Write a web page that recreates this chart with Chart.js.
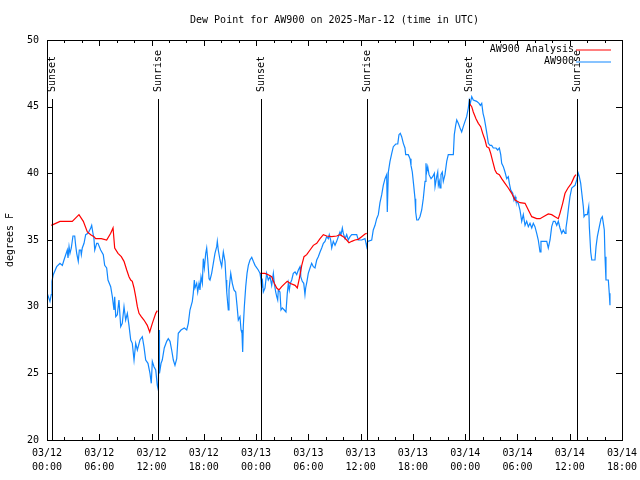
<!DOCTYPE html>
<html lang="en">
<head>
    <meta charset="utf-8">
    <script src="https://cdn.jsdelivr.net/npm/chart.js@4.4.1/dist/chart.umd.min.js"></script>
    <title>Dew Point for AW900</title>
    <style>
        html, body { margin: 0; padding: 0; background: #fff; }
        #wrap { width: 640px; height: 480px; }
    </style>
</head>
<body>
<div id="wrap"><canvas id="chart" width="640" height="480"></canvas></div>
<script>
// hours since 2025-03-12 00:00 UTC
const titleText = 'Dew Point for AW900 on 2025-Mar-12 (time in UTC)';
const yLabel = 'degrees F';
const startDay = 12;

// AW900 observed dew point
const obsHours = [0, 0.34, 0.49, 0.57, 0.72, 1.11, 1.49, 1.76, 1.95, 2.33, 2.41, 2.53, 2.64, 2.79, 2.98, 3.18, 3.29, 3.41, 3.59, 3.71, 3.87, 3.94, 4.05, 4.25, 4.44, 4.71, 5.02, 5.13, 5.25, 5.39, 5.48, 5.70, 5.85, 6.16, 6.46, 6.62, 6.85, 7.00, 7.31, 7.50, 7.69, 7.77, 7.89, 8.07, 8.26, 8.46, 8.64, 8.84, 9.03, 9.22, 9.41, 9.61, 9.79, 9.99, 10.18, 10.37, 10.67, 10.94, 11.13, 11.33, 11.59, 11.82, 11.97, 12.09, 12.28, 12.48, 12.66, 12.78, 12.86, 12.91, 13.09, 13.23, 13.46, 13.74, 13.92, 14.12, 14.31, 14.50, 14.69, 14.89, 15.07, 15.38, 15.76, 16.04, 16.22, 16.41, 16.68, 16.79, 16.91, 16.99, 17.18, 17.30, 17.45, 17.56, 17.68, 17.83, 17.94, 18.06, 18.22, 18.33, 18.45, 18.60, 18.71, 18.90, 19.09, 19.28, 19.48, 19.55, 19.66, 19.86, 20.05, 20.24, 20.43, 20.55, 20.63, 20.81, 20.89, 21.09, 21.27, 21.46, 21.66, 21.81, 21.96, 22.15, 22.27, 22.38, 22.46, 22.53, 22.65, 22.81, 22.96, 23.11, 23.30, 23.50, 23.68, 23.88, 24.25, 24.45, 24.56, 24.64, 24.71, 24.83, 25.02, 25.21, 25.40, 25.60, 25.79, 25.98, 26.09, 26.25, 26.37, 26.48, 26.55, 26.74, 26.86, 27.01, 27.24, 27.43, 27.58, 27.70, 27.81, 27.93, 28.09, 28.27, 28.47, 28.66, 28.85, 29.04, 29.12, 29.30, 29.47, 29.61, 29.69, 29.84, 29.99, 30.19, 30.38, 30.57, 30.76, 30.96, 31.14, 31.34, 31.53, 31.72, 31.91, 32.10, 32.29, 32.40, 32.56, 32.68, 32.86, 33.06, 33.25, 33.44, 33.63, 33.75, 33.90, 34.01, 34.21, 34.40, 34.58, 34.78, 34.98, 35.55, 35.73, 36.12, 36.50, 36.70, 36.81, 37.27, 37.45, 37.65, 37.84, 38.03, 38.22, 38.42, 38.60, 38.80, 38.99, 39.06, 39.18, 39.37, 39.57, 39.75, 40.03, 40.26, 40.40, 40.55, 40.71, 40.90, 41.09, 41.17, 41.47, 41.67, 41.78, 41.93, 42.09, 42.24, 42.32, 42.44, 42.62, 42.81, 43.01, 43.19, 43.39, 43.50, 43.58, 43.70, 43.85, 44.08, 44.27, 44.46, 44.54, 44.73, 44.85, 44.92, 45.03, 45.11, 45.22, 45.37, 45.49, 45.68, 45.88, 46.06, 46.37, 46.64, 46.75, 46.91, 47.03, 47.21, 47.41, 47.60, 47.78, 47.98, 48.17, 48.36, 48.47, 48.59, 48.75, 48.93, 49.32, 49.59, 49.74, 49.90, 50.05, 50.20, 50.36, 50.51, 50.66, 50.85, 51.04, 51.23, 51.54, 51.73, 51.92, 52.08, 52.19, 52.38, 52.57, 52.77, 52.95, 53.07, 53.23, 53.46, 53.60, 53.72, 53.83, 54.10, 54.29, 54.49, 54.67, 54.87, 55.06, 55.25, 55.44, 55.64, 55.82, 56.01, 56.21, 56.39, 56.59, 56.70, 57.36, 57.54, 57.74, 57.93, 58.12, 58.31, 58.51, 58.69, 58.88, 59.08, 59.26, 59.46, 59.57, 59.72, 59.88, 60.03, 60.23, 60.41, 60.61, 60.80, 60.98, 61.10, 61.26, 61.37, 61.56, 61.64, 61.79, 62.02, 62.18, 62.25, 62.41, 62.53, 62.90, 63.02, 63.17, 63.40, 63.59, 63.74, 63.86, 63.97, 64.05, 64.16, 64.43, 64.54, 64.62];
const obsValues = [31.05, 30.4, 30.9, 31.9, 32.4, 33.0, 33.25, 33.1, 33.5, 34.25, 33.65, 34.5, 34.0, 34.4, 35.3, 35.3, 34.6, 34.0, 33.4, 34.25, 34.25, 33.9, 34.4, 34.75, 35.4, 35.5, 35.9, 36.1, 35.6, 35.1, 34.25, 34.75, 34.75, 34.25, 33.9, 33.1, 32.9, 32.0, 31.5, 30.75, 29.75, 30.75, 29.25, 29.4, 30.5, 28.5, 28.75, 30.0, 29.0, 29.5, 28.6, 27.5, 27.25, 26.0, 27.25, 26.75, 27.5, 27.75, 27.0, 26.0, 25.75, 25.0, 24.25, 25.9, 25.5, 25.25, 24.1, 23.75, 28.25, 25.0, 25.75, 26.0, 26.9, 27.4, 27.6, 27.4, 26.75, 26.0, 25.6, 26.1, 28.0, 28.25, 28.4, 28.25, 28.75, 29.75, 30.4, 31.0, 32.0, 31.4, 31.75, 31.1, 31.75, 31.25, 32.25, 31.75, 33.6, 32.9, 34.0, 34.4, 33.5, 32.1, 32.0, 32.5, 33.25, 34.0, 34.5, 34.9, 34.25, 33.5, 33.0, 34.1, 33.4, 32.0, 31.1, 29.75, 31.25, 32.5, 31.75, 31.25, 31.1, 30.1, 29.0, 29.25, 28.25, 28.0, 26.6, 28.5, 30.0, 31.5, 32.5, 33.1, 33.5, 33.7, 33.4, 33.1, 32.75, 32.5, 32.0, 31.4, 32.1, 31.1, 31.4, 32.5, 32.0, 32.25, 31.6, 32.5, 31.75, 31.1, 30.75, 30.5, 31.25, 31.1, 29.75, 29.9, 29.75, 29.6, 31.0, 31.75, 31.25, 31.75, 32.0, 32.5, 32.6, 32.4, 32.75, 33.0, 32.25, 31.9, 31.75, 30.9, 31.4, 31.9, 32.5, 32.9, 33.25, 33.0, 32.9, 33.5, 33.75, 34.1, 34.4, 34.75, 34.9, 35.25, 35.1, 35.4, 35.0, 34.4, 34.9, 34.6, 34.9, 35.25, 35.6, 35.4, 35.9, 35.5, 35.1, 35.4, 35.0, 35.25, 35.4, 35.4, 35.0, 35.0, 35.1, 34.5, 34.9, 35.0, 35.75, 36.1, 36.6, 36.9, 37.8, 38.4, 39.1, 39.6, 39.9, 37.1, 40.1, 40.9, 41.5, 42.0, 42.2, 42.2, 42.9, 43.0, 42.75, 42.25, 41.9, 41.4, 41.4, 41.1, 40.6, 40.1, 39.1, 38.1, 37.1, 36.5, 36.5, 36.75, 37.25, 38.1, 39.4, 40.75, 40.1, 40.5, 39.9, 39.6, 39.75, 40.0, 39.0, 39.75, 40.1, 39.1, 39.4, 38.9, 39.9, 40.1, 39.4, 39.9, 40.9, 41.4, 41.4, 41.4, 42.9, 43.6, 44.0, 43.75, 43.4, 43.1, 43.5, 43.9, 44.25, 44.9, 45.5, 45.25, 45.75, 45.5, 45.4, 45.25, 45.1, 45.25, 44.5, 44.1, 43.5, 42.9, 42.25, 42.1, 42.1, 41.9, 41.9, 41.75, 41.9, 41.4, 40.75, 40.5, 40.1, 39.6, 39.75, 39.25, 38.75, 38.5, 38.0, 38.25, 37.9, 37.75, 37.25, 36.4, 36.9, 36.1, 36.4, 36.0, 36.25, 35.9, 36.25, 36.0, 35.5, 35.0, 34.1, 34.9, 34.9, 34.4, 35.0, 36.0, 36.4, 36.4, 36.1, 36.4, 35.9, 35.5, 35.75, 35.5, 35.9, 36.6, 37.5, 38.25, 38.9, 39.0, 39.1, 39.5, 40.0, 39.75, 39.25, 38.6, 37.5, 36.75, 36.9, 36.9, 37.5, 36.0, 34.1, 33.5, 33.5, 34.5, 35.25, 36.0, 36.6, 36.75, 36.25, 35.75, 33.75, 32.0, 32.0, 31.0, 30.1];

// AW900 analysis (night-time only, null = break)
const anaHours = [0.49, 1.00, 1.49, 2.15, 2.90, 3.67, 4.17, 4.63, 5.02, 5.39, 5.59, 6.23, 6.85, 7.31, 7.58, 7.77, 8.15, 8.53, 8.84, 9.15, 9.41, 9.61, 9.79, 9.99, 10.18, 10.37, 10.56, 10.82, 11.13, 11.51, 11.79, 12.09, 12.48, 12.66, 18.0, 24.48, 25.02, 25.40, 25.79, 26.09, 26.37, 26.63, 26.94, 27.32, 27.58, 27.89, 28.47, 28.73, 28.96, 29.24, 29.50, 29.81, 30.19, 30.57, 30.96, 31.34, 31.72, 32.10, 32.68, 33.25, 33.63, 34.01, 34.40, 34.66, 34.98, 35.35, 35.73, 36.12, 36.50, 36.70, 42.0, 48.47, 48.75, 48.93, 49.24, 49.51, 49.78, 50.01, 50.28, 50.47, 50.73, 50.93, 51.16, 51.42, 51.62, 51.92, 52.19, 52.57, 52.95, 53.34, 53.72, 54.29, 54.87, 55.25, 55.64, 56.21, 56.59, 56.97, 57.54, 57.93, 58.31, 58.69, 58.88, 59.19, 59.46, 59.80, 60.19, 60.53, 60.72];
const anaValues = [36.1, 36.25, 36.4, 36.4, 36.4, 36.9, 36.4, 35.6, 35.4, 35.25, 35.1, 35.1, 35.0, 35.5, 35.9, 34.4, 34.0, 33.75, 33.4, 32.75, 32.25, 32.0, 31.9, 31.4, 30.75, 30.0, 29.5, 29.25, 29.0, 28.6, 28.1, 28.75, 29.5, 29.7, null, 32.5, 32.5, 32.4, 32.25, 31.75, 31.4, 31.25, 31.5, 31.75, 31.9, 31.75, 31.6, 31.4, 32.1, 33.1, 33.75, 33.9, 34.25, 34.6, 34.75, 35.1, 35.4, 35.3, 35.25, 35.3, 35.4, 35.25, 35.0, 34.8, 34.9, 35.0, 35.05, 35.25, 35.45, 35.5, null, 45.25, 45.0, 44.6, 44.1, 43.75, 43.5, 43.0, 42.5, 42.0, 41.9, 41.5, 40.9, 40.25, 40.0, 39.9, 39.6, 39.25, 38.9, 38.5, 38.0, 37.8, 37.75, 37.25, 36.75, 36.6, 36.6, 36.75, 36.95, 36.9, 36.75, 36.6, 37.0, 37.75, 38.5, 38.9, 39.25, 39.75, 39.9];

// sunrise / sunset markers
const eventHours = [0.54, 12.78, 24.51, 36.77, 48.47, 60.78];
const eventNames = ['Sunset', 'Sunrise', 'Sunset', 'Sunrise', 'Sunset', 'Sunrise'];

const RED = '#ff0000';
const BLUE = '#1188ff';
const FONT = '10px "DejaVu Sans Mono", "Liberation Mono", monospace';

function hourLabel(h) {
    const day = startDay + Math.floor(h / 24);
    const hh = h % 24;
    return ['03/' + day, String(hh).padStart(2, '0') + ':00'];
}

// frame, inward ticks, sunrise/sunset lines, title and legend like gnuplot
const gnuplotBits = {
    id: 'gnuplotBits',
    afterDraw(chart) {
        const ctx = chart.ctx;
        const a = chart.chartArea;
        const xs = chart.scales.x;
        const ys = chart.scales.y;
        ctx.save();
        ctx.strokeStyle = '#000';
        ctx.lineWidth = 1;

        // frame
        ctx.strokeRect(Math.round(a.left) + 0.5, Math.round(a.top) + 0.5,
            Math.round(a.right - a.left), Math.round(a.bottom - a.top));

        ctx.beginPath();
        // x ticks every 2 h, longer every 6 h
        for (let h = 0; h <= 66; h += 2) {
            const px = Math.round(xs.getPixelForValue(h)) + 0.5;
            const len = (h % 6 === 0) ? 6 : 3;
            ctx.moveTo(px, a.bottom); ctx.lineTo(px, a.bottom - len);
            ctx.moveTo(px, a.top); ctx.lineTo(px, a.top + len);
        }
        // y ticks
        for (let v = 20; v <= 50; v += 5) {
            const py = Math.round(ys.getPixelForValue(v)) + 0.5;
            ctx.moveTo(a.left, py); ctx.lineTo(a.left + 6, py);
            ctx.moveTo(a.right, py); ctx.lineTo(a.right - 6, py);
        }
        ctx.stroke();

        // sunrise / sunset lines with labels
        ctx.font = FONT;
        ctx.fillStyle = '#000';
        eventHours.forEach((h, i) => {
            const px = Math.round(xs.getPixelForValue(h)) + 0.5;
            ctx.beginPath();
            ctx.moveTo(px, 99);
            ctx.lineTo(px, a.bottom);
            ctx.stroke();
            ctx.save();
            ctx.translate(px, 92);
            ctx.rotate(-Math.PI / 2);
            ctx.textAlign = 'left';
            ctx.textBaseline = 'middle';
            ctx.fillText(eventNames[i], 0, 0);
            ctx.restore();
        });

        // title
        ctx.textAlign = 'center';
        ctx.textBaseline = 'middle';
        ctx.fillText(titleText, (a.left + a.right) / 2, 20);

        // y axis label
        ctx.save();
        ctx.translate(10, (a.top + a.bottom) / 2);
        ctx.rotate(-Math.PI / 2);
        ctx.fillText(yLabel, 0, 0);
        ctx.restore();

        // legend: text then line sample
        const legendColors = [RED, BLUE];
        chart.data.datasets.forEach((ds, i) => {
            const y = 49 + i * 12;
            ctx.textAlign = 'right';
            ctx.fillStyle = '#000';
            ctx.fillText(ds.label, 574, y);
            ctx.strokeStyle = legendColors[i];
            ctx.lineWidth = 1.2;
            ctx.beginPath();
            ctx.moveTo(576, y + 1);
            ctx.lineTo(611, y + 1);
            ctx.stroke();
        });
        ctx.restore();
    }
};

new Chart(document.getElementById('chart'), {
    type: 'line',
    data: {
        datasets: [{
            label: 'AW900 Analysis',
            data: anaHours.map((h, i) => ({x: h, y: anaValues[i]})),
            borderColor: RED,
            borderWidth: 1.2,
            pointRadius: 0,
            spanGaps: false,
            tension: 0,
        }, {
            label: 'AW900',
            data: obsHours.map((h, i) => ({x: h, y: obsValues[i]})),
            borderColor: BLUE,
            borderWidth: 1.2,
            pointRadius: 0,
            tension: 0,
        }],
    },
    options: {
        responsive: false,
        animation: false,
        events: [],
        layout: { padding: { top: 40, right: 18, left: 0, bottom: 0 } },
        plugins: { legend: { display: false }, title: { display: false }, tooltip: { enabled: false } },
        scales: {
            x: {
                type: 'linear',
                min: 0, max: 66,
                border: { display: false },
                grid: { display: false, drawTicks: false },
                ticks: {
                    stepSize: 6,
                    maxRotation: 0,
                    autoSkip: false,
                    padding: 6,
                    color: '#000',
                    font: { family: '"DejaVu Sans Mono", monospace', size: 10, lineHeight: 1.4 },
                    callback: (v) => hourLabel(v),
                },
                afterFit: (s) => { s.height = 40; s.paddingLeft = 0; s.paddingRight = 0; },
            },
            y: {
                min: 20, max: 50,
                border: { display: false },
                grid: { display: false, drawTicks: false },
                ticks: {
                    stepSize: 5,
                    padding: 8,
                    color: '#000',
                    font: { family: '"DejaVu Sans Mono", monospace', size: 10 },
                },
                afterFit: (s) => { s.width = 47; s.paddingTop = 0; s.paddingBottom = 0; },
            },
        },
    },
    plugins: [gnuplotBits],
});
</script>
</body>
</html>
